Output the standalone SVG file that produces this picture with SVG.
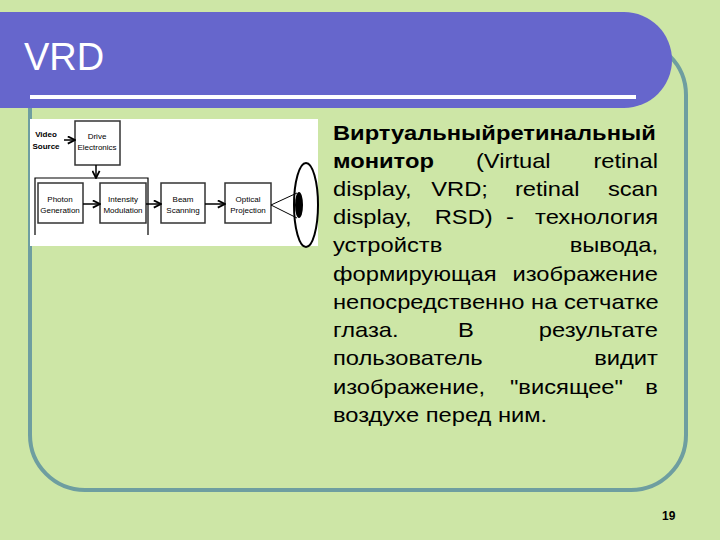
<svg xmlns="http://www.w3.org/2000/svg" width="720" height="540" viewBox="0 0 720 540">
<defs>
<style>
.t{font-family:"Liberation Sans",Arial,sans-serif;font-size:21px;fill:#000}
.e{text-anchor:end}
.s{font-family:"Liberation Sans",Arial,sans-serif;font-size:8px;fill:#000;text-anchor:middle}
.b{fill:#fff;stroke:#333;stroke-width:1.5}
.c{stroke:#000;stroke-width:1.5;fill:none;marker-end:url(#a)}
</style>
<marker id="a" viewBox="0 0 10 10" refX="9" refY="5" markerWidth="6" markerHeight="6" orient="auto"><path d="M1,1 L9,5 L1,9" fill="none" stroke="#000" stroke-width="2"/></marker>
</defs>
<rect width="720" height="540" fill="#cde6a6"/>
<rect x="30" y="40" width="656" height="450" rx="55" fill="none" stroke="#6e9ea0" stroke-width="4"/>
<path d="M0,12 H624 A48,48 0 0 1 624,108 H0 Z" fill="#6666cc"/>
<rect x="30" y="95" width="606" height="4" fill="#fff"/>
<text x="24" y="70" font-family="Liberation Sans,Arial,sans-serif" font-size="38" fill="#fff">VRD</text>
<g id="figure">
<rect x="30" y="119" width="288" height="127" fill="#fff"/>
<g id="video"><text class="s" x="46" y="137" font-weight="bold">Video</text><text class="s" x="46" y="149" font-weight="bold">Source</text></g>
<g id="drive"><rect class="b" x="75" y="121" width="45" height="44"/><text class="s" x="97" y="139">Drive</text><text class="s" x="97" y="150">Electronics</text></g>
<path d="M35,235 V178 H148 V235" fill="none" stroke="#000" stroke-width="1.2"/>
<g id="photon"><rect class="b" x="38" y="183" width="45" height="40"/><text class="s" x="60" y="202">Photon</text><text class="s" x="60" y="213">Generation</text></g>
<g id="intensity"><rect class="b" x="100" y="183" width="46" height="40"/><text class="s" x="123" y="202">Intensity</text><text class="s" x="123" y="213">Modulation</text></g>
<g id="beam"><rect class="b" x="161" y="183" width="44" height="40"/><text class="s" x="183" y="202">Beam</text><text class="s" x="183" y="213">Scanning</text></g>
<g id="optical"><rect class="b" x="225" y="183" width="46" height="40"/><text class="s" x="248" y="202">Optical</text><text class="s" x="248" y="213">Projection</text></g>
<g id="eye"><ellipse cx="306" cy="205" rx="12" ry="42" fill="#fff" stroke="#000" stroke-width="2"/><ellipse cx="299" cy="205" rx="4" ry="13" fill="#000"/><path d="M271,205 L297,193 M271,205 L297,218" stroke="#000" stroke-width="1"/></g>
</g>
<g id="connectors">
<path class="c" d="M64,140 H75"/>
<path class="c" d="M96,165 V178"/>
<path class="c" d="M83,204 H100"/>
<path class="c" d="M146,204 H161"/>
<path class="c" d="M205,204 H225"/>
</g>
<g id="body" transform="translate(333,0) scale(1.13,1)">
<text class="t" x="0" y="140" font-weight="bold">Виртуальныйретинальный</text>
<text class="t" x="0" y="168" font-weight="bold">монитор</text><text class="t" x="126.5" y="168">(Virtual</text><text class="t e" x="287.6" y="168">retinal</text>
<text class="t" x="0" y="196">display,</text><text class="t" x="87" y="196">VRD;</text><text class="t" x="161" y="196">retinal</text><text class="t e" x="287.6" y="196">scan</text>
<text class="t" x="0" y="224">display,</text><text class="t" x="90" y="224">RSD)</text><text class="t" x="153" y="224">-</text><text class="t e" x="287.6" y="224">технология</text>
<text class="t" x="0" y="252">устройств</text><text class="t e" x="287.6" y="252">вывода,</text>
<text class="t" x="0" y="281">формирующая</text><text class="t e" x="287.6" y="281">изображение</text>
<text class="t" x="0" y="309">непосредственно на сетчатке</text>
<text class="t" x="0" y="337">глаза.</text><text class="t" x="110.6" y="337">В</text><text class="t e" x="287.6" y="337">результате</text>
<text class="t" x="0" y="365">пользователь</text><text class="t e" x="287.6" y="365">видит</text>
<text class="t" x="0" y="394">изображение,</text><text class="t" x="156.6" y="394">"висящее"</text><text class="t e" x="287.6" y="394">в</text>
<text class="t" x="0" y="422">воздухе перед ним.</text>
</g>
<text x="662" y="520" font-family="Liberation Sans,Arial,sans-serif" font-size="12" font-weight="bold">19</text>
</svg>
